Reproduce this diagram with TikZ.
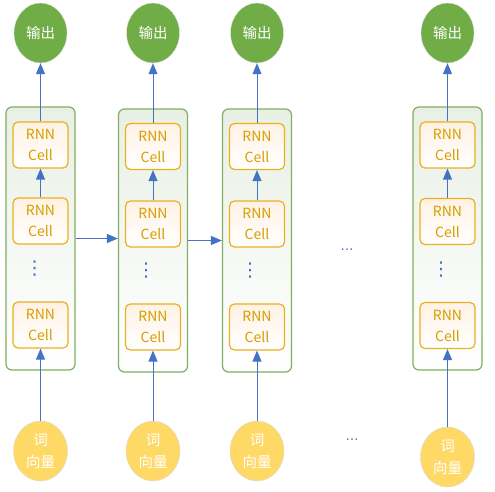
\documentclass[tikz,border=0pt]{standalone}
\usepackage{fontspec}
\setmainfont{Noto Sans CJK SC}
\newfontfamily\dotsfont{DejaVu Sans}
\usetikzlibrary{arrows.meta,shapes.geometric}
\definecolor{outgreen}{RGB}{112,173,71}
\definecolor{ingold}{RGB}{255,217,102}
\definecolor{cellgold}{RGB}{234,176,30}
\definecolor{celltext}{RGB}{214,158,0}
\definecolor{cellfill}{RGB}{255,242,228}
\definecolor{layergreen}{RGB}{128,174,98}
\definecolor{layerfill}{RGB}{232,240,229}
\definecolor{linkblue}{RGB}{68,114,196}

\begin{document}
\begin{tikzpicture}[
	x=1pt,y=-1pt,
	outnode/.style={
		ellipse,minimum width=53pt,minimum height=60pt,inner sep=0pt,
		fill=outgreen,draw=black!12,text=white,font=\fontsize{14.5}{16}\selectfont},
	innode/.style={
		ellipse,minimum width=54pt,minimum height=60pt,inner sep=0pt,
		fill=ingold,draw=black!15,text=white,align=center,font=\fontsize{14.5}{22}\selectfont},
	cellnode/.style={
		rectangle,minimum width=55pt,minimum height=46pt,rounded corners=5pt,inner sep=0pt,
		line width=1.2pt,draw=cellgold,top color=cellfill,bottom color=white,
		text=celltext,align=center,font=\fontsize{14}{21}\selectfont},
	layernode/.style={
		rectangle,minimum width=69pt,minimum height=263pt,rounded corners=6pt,
		line width=1.2pt,draw=layergreen,top color=layerfill,bottom color=white},
	link/.style={-{Triangle[width=9pt,length=11pt]},line width=1pt,draw=linkblue},
	dotnode/.style={text=linkblue,inner sep=0pt,font=\dotsfont\fontsize{19}{19}\selectfont}
	]
	\useasboundingbox (0,0) rectangle (495,492);
	% first word
	\node [layernode] (layerA) at (40.5,238.5) {};
	\node [cellnode] (cellA1) at (40.5,145) {RNN\\Cell};
	\node [cellnode] (cellA2) at (40.5,221) {RNN\\Cell};
	\node [dotnode] (dotsA) at (34.5,269) {⋮};
	\node [cellnode] (cellA3) at (40.5,325) {RNN\\Cell};
	\node [outnode] (outA) at (40.5,33) {输出};
	\node [innode] (inA) at (40.5,451) {词\\向量};
	\draw [link] (inA) -- (cellA3);
	\draw [link] (cellA2) -- (cellA1);
	\draw [link] (cellA1) -- (outA);
	% second word
	\node [layernode] (layerB) at (153,240.5) {};
	\node [cellnode] (cellB1) at (153,146.5) {RNN\\Cell};
	\node [cellnode] (cellB2) at (153,224) {RNN\\Cell};
	\node [dotnode] (dotsB) at (146,270.5) {⋮};
	\node [cellnode] (cellB3) at (153,327) {RNN\\Cell};
	\node [outnode] (outB) at (153,33) {输出};
	\node [innode] (inB) at (153,451) {词\\向量};
	\draw [link] (inB) -- (cellB3);
	\draw [link] (cellB2) -- (cellB1);
	\draw [link] (cellB1) -- (outB);
	% third word
	\node [layernode] (layerC) at (257,240.5) {};
	\node [cellnode] (cellC1) at (257,146.5) {RNN\\Cell};
	\node [cellnode] (cellC2) at (257,224) {RNN\\Cell};
	\node [dotnode] (dotsC) at (250,270.5) {⋮};
	\node [cellnode] (cellC3) at (257,327) {RNN\\Cell};
	\node [outnode] (outC) at (257,33) {输出};
	\node [innode] (inC) at (257,451) {词\\向量};
	\draw [link] (inC) -- (cellC3);
	\draw [link] (cellC2) -- (cellC1);
	\draw [link] (cellC1) -- (outC);
	% last word
	\node [layernode] (layerD) at (447.5,238.5) {};
	\node [cellnode] (cellD1) at (447.5,145) {RNN\\Cell};
	\node [cellnode] (cellD2) at (447.5,221.5) {RNN\\Cell};
	\node [dotnode] (dotsD) at (441,269.5) {⋮};
	\node [cellnode] (cellD3) at (447.5,325.5) {RNN\\Cell};
	\node [outnode] (outD) at (447.5,33) {输出};
	\node [innode] (inD) at (447.5,457) {词\\向量};
	\draw [link] (inD) -- (cellD3);
	\draw [link] (cellD2) -- (cellD1);
	\draw [link] (cellD1) -- (outD);
	% hidden state between words
	\draw [link] (layerA.east) -- (layerA.east -| layerB.west);
	\draw [link] (layerB.east) -- (layerB.east -| layerC.west);
	\node [dotnode,anchor=base,font=\dotsfont\fontsize{13}{13}\selectfont] (skipTop) at (347,250) {…};
	\node [dotnode,anchor=base,font=\dotsfont\fontsize{13}{13}\selectfont] (skipBottom) at (352,440) {…};
\end{tikzpicture}
\end{document}
